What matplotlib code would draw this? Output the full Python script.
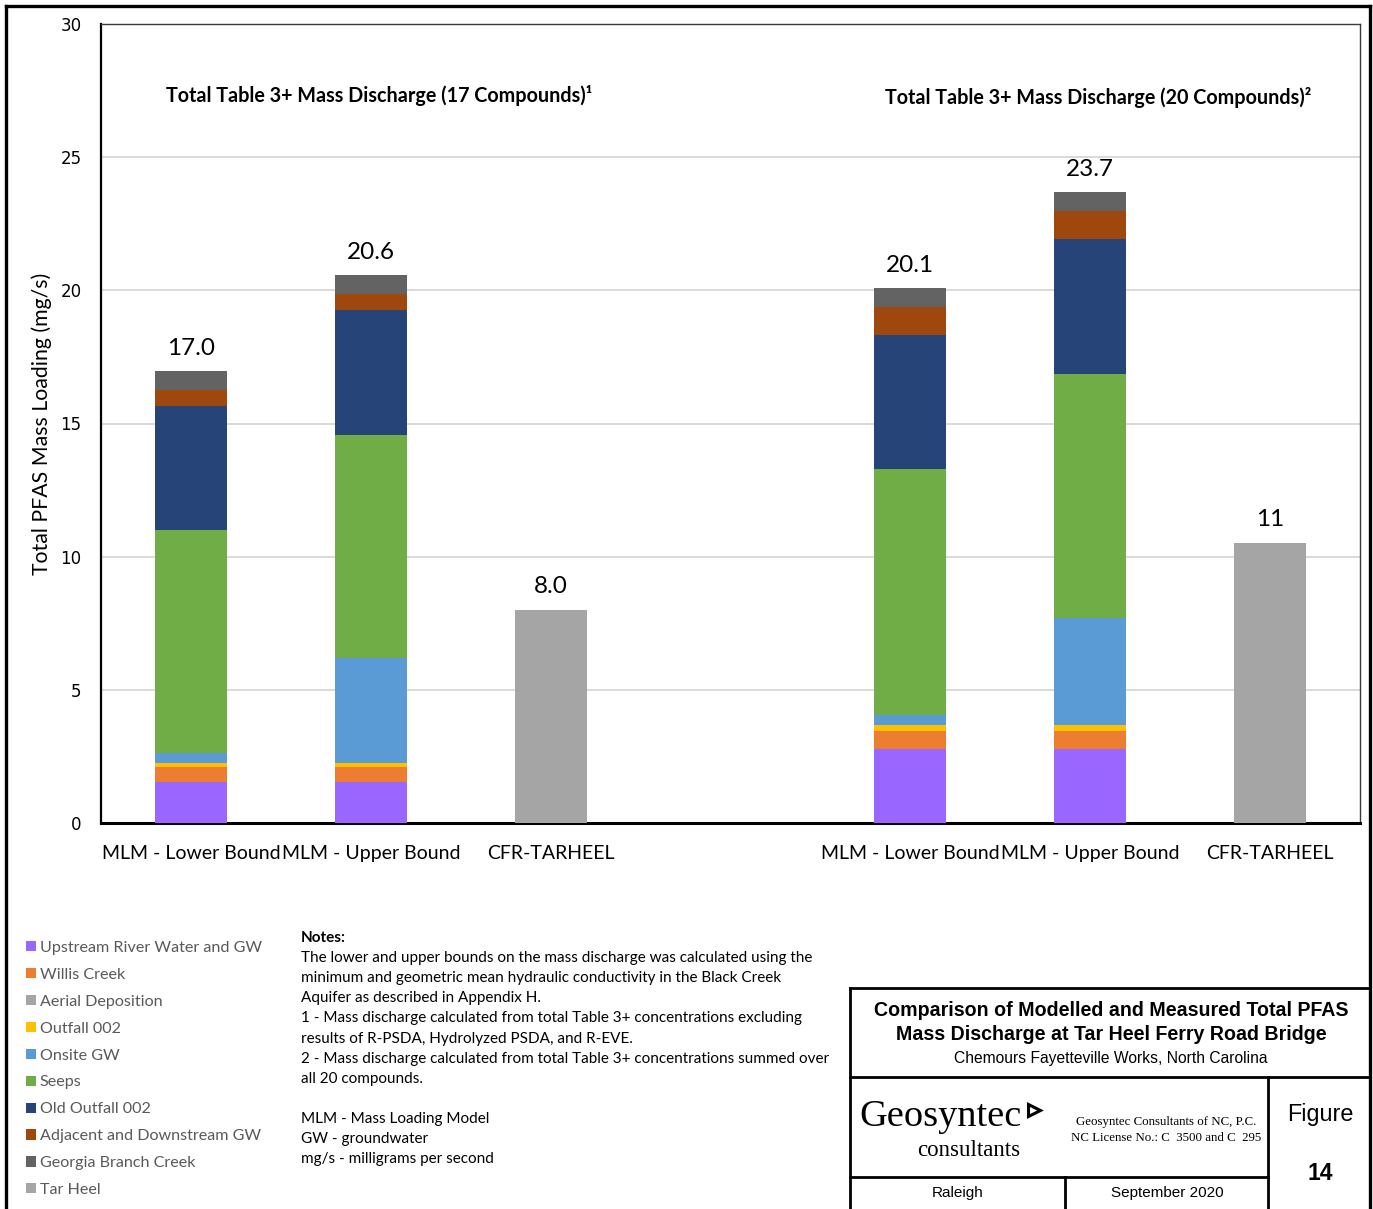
import numpy as np
import matplotlib
matplotlib.use("Agg")
import matplotlib.pyplot as plt
from matplotlib.lines import Line2D

# ---- data -------------------------------------------------------------
categories = ["MLM - Lower Bound", "MLM - Upper Bound", "CFR-TARHEEL", "",
              "MLM - Lower Bound", "MLM - Upper Bound", "CFR-TARHEEL"]

series_names = ["Upstream River Water and GW", "Willis Creek", "Aerial Deposition",
                "Outfall 002", "Onsite GW", "Seeps", "Old Outfall 002",
                "Adjacent and Downstream GW", "Georgia Branch Creek", "Tar Heel"]

upstream   = [1.55, 1.55, 0.0, 0.0, 2.76, 2.76, 0.0]
willis     = [0.56, 0.56, 0.0, 0.0, 0.68, 0.68, 0.0]
aerial     = [0.0, 0.0, 0.0, 0.0, 0.0, 0.0, 0.0]
outfall002 = [0.13, 0.14, 0.0, 0.0, 0.25, 0.25, 0.0]
onsite_gw  = [0.38, 3.96, 0.0, 0.0, 0.38, 4.00, 0.0]
seeps      = [8.38, 8.37, 0.0, 0.0, 9.22, 9.18, 0.0]
old_outfall = [4.67, 4.68, 0.0, 0.0, 5.04, 5.06, 0.0]
adjacent   = [0.60, 0.60, 0.0, 0.0, 1.05, 1.05, 0.0]
georgia    = [0.69, 0.70, 0.0, 0.0, 0.70, 0.70, 0.0]
tar_heel   = [0.0, 0.0, 8.0, 0.0, 0.0, 0.0, 10.52]

series_values = [upstream, willis, aerial, outfall002, onsite_gw, seeps,
                 old_outfall, adjacent, georgia, tar_heel]
series_colors = ["#9966FF", "#ED7D31", "#A5A5A5", "#FFC000", "#5B9BD5",
                 "#70AD47", "#264478", "#9E480E", "#636363", "#A5A5A5"]

label_formats = ["{:.1f}", "{:.1f}", "{:.1f}", None, "{:.1f}", "{:.1f}", "{:.0f}"]

section_titles = ["Total Table 3+ Mass Discharge (17 Compounds)\u00b9",
                  "Total Table 3+ Mass Discharge (20 Compounds)\u00b2"]

y_ticks = [0, 5, 10, 15, 20, 25, 30]

notes_lines = [
    "The lower and upper bounds on the mass discharge was calculated using the",
    "minimum and geometric mean hydraulic conductivity in the Black Creek",
    "Aquifer as described in Appendix H.",
    "1 - Mass discharge calculated from total Table 3+ concentrations excluding",
    "results of R-PSDA, Hydrolyzed PSDA, and R-EVE.",
    "2 - Mass discharge calculated from total Table 3+ concentrations summed over",
    "all 20 compounds.",
    "",
    "MLM - Mass Loading Model",
    "GW - groundwater",
    "mg/s - milligrams per second",
]

# ---- figure -----------------------------------------------------------
W, H = 1373, 1209
fig = plt.figure(figsize=(W / 100, H / 100), dpi=100)
BODY = "Lato"
HEAD = "Liberation Sans"
SERIF = "Liberation Serif"


def fx(x):
    return x / W


def fy(y):
    return 1 - y / H


ax = fig.add_axes([fx(101), fy(823), fx(1360) - fx(101), fy(24) - fy(823)])

x = np.arange(len(categories))
bottom = np.zeros(len(categories))
handles = []
for name, vals, col in zip(series_names, series_values, series_colors):
    vals = np.asarray(vals, dtype=float)
    bars = ax.bar(x, vals, width=0.40, bottom=bottom, color=col, label=name,
                  edgecolor="none", linewidth=0, zorder=3)
    handles.append(bars)
    bottom += vals

totals = bottom
for xi, tot, fmt in zip(x, totals, label_formats):
    if fmt is None:
        continue
    ax.annotate(fmt.format(tot), (xi, tot), xytext=(0, 9), textcoords="offset points",
                ha="center", va="bottom", fontsize=17.5, family=BODY, color="#000000")

ax.set_xlim(-0.5, len(categories) - 0.5)
ax.set_ylim(0, 30)
ax.set_yticks(y_ticks)
ax.set_yticklabels([str(t) for t in y_ticks], family="DejaVu Sans", fontsize=12)
ax.set_xticks(x)
ax.set_xticklabels(categories, family=BODY, fontsize=14)
ax.tick_params(axis="x", length=0, pad=16)
ax.tick_params(axis="y", length=0, pad=14)
ax.grid(axis="y", color="#D9D9D9", linewidth=1.4, zorder=0)
ax.set_axisbelow(True)
for side in ("top", "right"):
    ax.spines[side].set_color("#3a3a3a")
    ax.spines[side].set_linewidth(1.0)
ax.spines["left"].set_linewidth(1.6)
ax.spines["bottom"].set_linewidth(2.2)
ax.set_ylabel("Total PFAS Mass Loading (mg/s)", family=BODY, fontsize=15.3, labelpad=6)

# section titles
fig.text(fx(379), fy(95), section_titles[0], ha="center", va="center",
         family=BODY, fontweight="bold", fontsize=14.2)
fig.text(fx(1098), fy(98), section_titles[1], ha="center", va="center",
         family=BODY, fontweight="bold", fontsize=14.2)

# legend
fig.legend(handles=handles, labels=series_names, loc="upper left",
           bbox_to_anchor=(fx(26), fy(941)), frameon=False,
           prop={"family": BODY, "size": 11.6}, labelcolor="#595959",
           handlelength=0.6, handleheight=0.6, handletextpad=0.25,
           labelspacing=0.80, borderpad=0, borderaxespad=0)

# notes
fig.text(fx(301), fy(938), "Notes:", ha="left", va="center", family=BODY,
         fontweight="bold", fontsize=11)
for i, line in enumerate(notes_lines):
    fig.text(fx(301), fy(958 + i * 20.15), line, ha="left", va="center",
             family=BODY, fontsize=11)

# outer frame
frame_kw = dict(color="black", linewidth=2.4, transform=fig.transFigure)
fig.add_artist(Line2D([fx(6), fx(1370)], [fy(6), fy(6)], **frame_kw))
fig.add_artist(Line2D([fx(6), fx(6)], [fy(6), fy(1209)], **frame_kw))
fig.add_artist(Line2D([fx(1370), fx(1370)], [fy(6), fy(1209)], **frame_kw))

# title block
tb_kw = dict(color="black", linewidth=2.0, transform=fig.transFigure)
fig.add_artist(Line2D([fx(850), fx(1370)], [fy(988), fy(988)], **tb_kw))
fig.add_artist(Line2D([fx(850), fx(850)], [fy(988), fy(1209)], **tb_kw))
fig.add_artist(Line2D([fx(850), fx(1370)], [fy(1077), fy(1077)], **tb_kw))
fig.add_artist(Line2D([fx(1268), fx(1268)], [fy(1077), fy(1209)], **tb_kw))
fig.add_artist(Line2D([fx(850), fx(1268)], [fy(1177), fy(1177)], **tb_kw))
fig.add_artist(Line2D([fx(1065), fx(1065)], [fy(1177), fy(1209)], **tb_kw))

fig.text(fx(1111), fy(1010), "Comparison of Modelled and Measured Total PFAS",
         ha="center", va="center", family=HEAD, fontweight="bold", fontsize=14.1)
fig.text(fx(1111), fy(1035), "Mass Discharge at Tar Heel Ferry Road Bridge",
         ha="center", va="center", family=HEAD, fontweight="bold", fontsize=14.1)
fig.text(fx(1111), fy(1058), "Chemours Fayetteville Works, North Carolina",
         ha="center", va="center", family=HEAD, fontsize=11.25)

fig.text(fx(859), fy(1117), "Geosyntec", ha="left", va="center", family=SERIF,
         fontsize=27.6)
fig.add_artist(Line2D([fx(1034)], [fy(1110)], marker=">", markersize=9,
                      markerfacecolor="white", markeredgecolor="black",
                      markeredgewidth=2.2, linestyle="none",
                      transform=fig.transFigure))
fig.text(fx(969), fy(1150), "consultants", ha="center", va="center", family=SERIF,
         fontsize=16.5)
fig.text(fx(1166), fy(1122), "Geosyntec Consultants of NC, P.C.", ha="center",
         va="center", family=SERIF, fontsize=9.3)
fig.text(fx(1166), fy(1138), "NC License No.: C  3500 and C  295", ha="center",
         va="center", family=SERIF, fontsize=9.3)

fig.text(fx(1320), fy(1114), "Figure", ha="center", va="center", family=HEAD,
         fontsize=16.8)
fig.text(fx(1320), fy(1173), "14", ha="center", va="center", family=HEAD,
         fontweight="bold", fontsize=16.5)
fig.text(fx(958), fy(1193), "Raleigh", ha="center", va="center", family=HEAD,
         fontsize=11)
fig.text(fx(1167), fy(1193), "September 2020", ha="center", va="center", family=HEAD,
         fontsize=11)

fig.savefig("out.png", dpi=100, facecolor="white")
